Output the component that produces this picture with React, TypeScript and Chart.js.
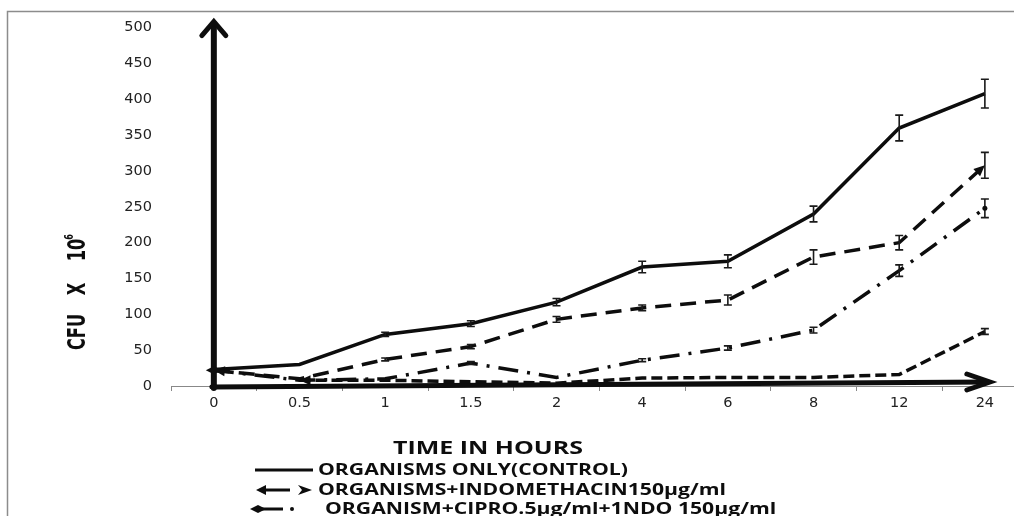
import React, { useEffect, useRef } from "react";
import { Chart, registerables } from "chart.js";

Chart.register(...registerables);

const TIME_LABELS = ["0", "0.5", "1", "1.5", "2", "4", "6", "8", "12", "24"];
const CONTROL = [23, 30, 72, 87, 117, 166, 174, 240, 360, 408];
const CONTROL_ERR = [0, 0, 3, 4, 5, 8, 9, 11, 18, 20];
const INDO = [22, 10, 37, 55, 93, 109, 120, 180, 200, 308];
const INDO_ERR = [0, 0, 2, 3, 4, 4, 7, 10, 10, 18];
const CIPRO_INDO = [22, 8, 10, 32, 12, 36, 53, 78, 161, 248];
const CIPRO_INDO_ERR = [0, 0, 0, 2, 0, 2, 3, 4, 8, 13];
const CIPRO = [null, 8, 8, 6, 4, 11, 12, 12, 16, 76];
const CIPRO_ERR = [0, 0, 0, 0, 0, 0, 0, 0, 0, 4];
const SERIES_NAMES = [
  "ORGANISMS ONLY(CONTROL)",
  "ORGANISMS+INDOMETHACIN150µg/ml",
  "ORGANISM+CIPRO.5µg/ml+1NDO 150µg/ml",
  "ORGANISM+CIPRO.5µg/ml",
];
const X_TITLE = "TIME IN HOURS";
const Y_TITLE = ["CFU", "X", "10", "6"];

const VALUES = [CONTROL, INDO, CIPRO_INDO, CIPRO];
const ERRORS = [CONTROL_ERR, INDO_ERR, CIPRO_INDO_ERR, CIPRO_ERR];
const DASHES = [[], [16, 9], [20, 9, 3, 9], [11, 5]];

const INK = "#0d0d0d";

function arrowHead(ctx: CanvasRenderingContext2D, tip: any, from: any, len: number, half: number) {
  const dx = tip.x - from.x;
  const dy = tip.y - from.y;
  const d = Math.hypot(dx, dy) || 1;
  const ux = dx / d;
  const uy = dy / d;
  const bx = tip.x - ux * len;
  const by = tip.y - uy * len;
  ctx.beginPath();
  ctx.moveTo(tip.x, tip.y);
  ctx.lineTo(bx - uy * half, by + ux * half);
  ctx.lineTo(bx + uy * half, by - ux * half);
  ctx.closePath();
  ctx.fill();
}

function stretchText(
  ctx: CanvasRenderingContext2D,
  text: string,
  x: number,
  y: number,
  font: string,
  sx: number,
  align: "left" | "center"
) {
  ctx.save();
  ctx.font = font;
  ctx.textBaseline = "middle";
  ctx.textAlign = "left";
  const w = ctx.measureText(text).width * sx;
  const left = align === "center" ? x - w / 2 : x;
  ctx.translate(left, y);
  ctx.scale(sx, 1);
  ctx.fillText(text, 0, 0);
  ctx.restore();
}

const axisArrows = {
  id: "axisArrows",
  beforeDatasetsDraw(chart: any) {
    const ctx = chart.ctx as CanvasRenderingContext2D;
    const xs = chart.scales.x;
    const ys = chart.scales.y;
    const x0 = xs.getPixelForValue(0);
    const y0 = ys.getPixelForValue(0);
    const top = chart.chartArea.top - 7;
    const xEnd = xs.getPixelForValue(TIME_LABELS.length - 1) + 5;
    const yEnd = y0 - 4;
    ctx.save();
    ctx.strokeStyle = INK;
    ctx.setLineDash([]);
    ctx.lineJoin = "miter";
    ctx.lineCap = "round";
    // vertical
    ctx.lineWidth = 6;
    ctx.beginPath();
    ctx.moveTo(x0, y0 + 2);
    ctx.lineTo(x0, top + 3);
    ctx.stroke();
    ctx.lineWidth = 5;
    ctx.beginPath();
    ctx.moveTo(x0 - 12, top + 15);
    ctx.lineTo(x0, top + 1);
    ctx.lineTo(x0 + 12, top + 15);
    ctx.stroke();
    // horizontal
    ctx.lineWidth = 5;
    ctx.beginPath();
    ctx.moveTo(x0 - 2, y0 + 1);
    ctx.lineTo(xEnd - 2, yEnd);
    ctx.stroke();
    ctx.beginPath();
    ctx.moveTo(xEnd - 23, yEnd - 8);
    ctx.lineTo(xEnd, yEnd);
    ctx.lineTo(xEnd - 23, yEnd + 8);
    ctx.stroke();
    ctx.restore();
  },
};

const errorBars = {
  id: "errorBars",
  afterDatasetsDraw(chart: any) {
    const ctx = chart.ctx as CanvasRenderingContext2D;
    const xs = chart.scales.x;
    const ys = chart.scales.y;
    ctx.save();
    ctx.strokeStyle = "#1a1a1a";
    ctx.lineWidth = 1.6;
    ctx.setLineDash([]);
    ERRORS.forEach((errs, si) => {
      errs.forEach((e, i) => {
        const v = VALUES[si][i];
        if (!e || v == null) return;
        const x = xs.getPixelForValue(i);
        const yt = ys.getPixelForValue(v + e);
        const yb = ys.getPixelForValue(v - e);
        ctx.beginPath();
        ctx.moveTo(x, yt);
        ctx.lineTo(x, yb);
        ctx.moveTo(x - 4, yt);
        ctx.lineTo(x + 4, yt);
        ctx.moveTo(x - 4, yb);
        ctx.lineTo(x + 4, yb);
        ctx.stroke();
      });
    });
    // line end markers
    ctx.fillStyle = INK;
    const m1 = chart.getDatasetMeta(1).data;
    arrowHead(ctx, m1[0], m1[1], 11, 5);
    arrowHead(ctx, m1[m1.length - 1], m1[m1.length - 2], 11, 5);
    const m2 = chart.getDatasetMeta(2).data;
    const p = m2[0];
    ctx.beginPath();
    ctx.moveTo(p.x - 8, p.y);
    ctx.lineTo(p.x, p.y - 4);
    ctx.lineTo(p.x + 8, p.y);
    ctx.lineTo(p.x, p.y + 4);
    ctx.closePath();
    ctx.fill();
    const q = m2[m2.length - 1];
    ctx.beginPath();
    ctx.arc(q.x, q.y, 2.5, 0, Math.PI * 2);
    ctx.fill();
    const m3 = chart.getDatasetMeta(3).data;
    arrowHead(ctx, m3[1], m3[2], 11, 5);
    ctx.restore();
  },
};

const texts = {
  id: "texts",
  afterDraw(chart: any) {
    const ctx = chart.ctx as CanvasRenderingContext2D;
    const W = chart.width;
    const H = chart.height;
    ctx.save();
    // frame
    ctx.strokeStyle = "#8c8c8c";
    ctx.lineWidth = 1.5;
    ctx.setLineDash([]);
    ctx.beginPath();
    ctx.moveTo(7.5, H + 2);
    ctx.lineTo(7.5, 11.5);
    ctx.lineTo(W + 2, 11.5);
    ctx.stroke();

    ctx.fillStyle = INK;
    // y title
    const yFont = 'bold 18px "Liberation Sans Narrow", "DejaVu Sans Condensed", sans-serif';
    const supFont = 'bold 9px "Liberation Sans Narrow", "DejaVu Sans Condensed", sans-serif';
    ctx.save();
    ctx.translate(76.5, 289);
    ctx.scale(1.35, 1);
    ctx.rotate(-Math.PI / 2);
    ctx.textAlign = "center";
    ctx.textBaseline = "alphabetic";
    ctx.font = yFont;
    ctx.fillText(Y_TITLE[0], -43, 6.3);
    ctx.fillText(Y_TITLE[1], 0, 6.3);
    ctx.fillText(Y_TITLE[2], 39, 6.3);
    ctx.font = supFont;
    ctx.fillText(Y_TITLE[3], 52, -2.5);
    ctx.restore();

    // x title
    const tFont = 'bold 17.5px "Open Sans", sans-serif';
    ctx.font = tFont;
    const tsx = 190 / ctx.measureText(X_TITLE).width;
    stretchText(ctx, X_TITLE, 488, 449, tFont, tsx, "center");

    // legend
    const lFont = 'bold 16px "Open Sans", sans-serif';
    ctx.font = lFont;
    const lsx = 310 / ctx.measureText(SERIES_NAMES[0]).width;
    const rows = [470, 490, 509, 529];
    const textX = [318, 318, 325, 325];
    SERIES_NAMES.forEach((name, i) => {
      stretchText(ctx, name, textX[i], rows[i], lFont, lsx, "left");
    });
    // legend samples
    ctx.strokeStyle = INK;
    ctx.lineWidth = 3;
    ctx.lineCap = "butt";
    ctx.beginPath();
    ctx.moveTo(255, rows[0]);
    ctx.lineTo(313, rows[0]);
    ctx.stroke();
    // row 2
    ctx.beginPath();
    ctx.moveTo(264, rows[1]);
    ctx.lineTo(290, rows[1]);
    ctx.stroke();
    arrowHead(ctx, { x: 256, y: rows[1] }, { x: 270, y: rows[1] }, 10, 5);
    ctx.beginPath();
    ctx.moveTo(312, rows[1]);
    ctx.lineTo(298, rows[1] - 5);
    ctx.lineTo(302, rows[1]);
    ctx.lineTo(298, rows[1] + 5);
    ctx.closePath();
    ctx.fill();
    // row 3
    ctx.beginPath();
    ctx.moveTo(250, rows[2]);
    ctx.lineTo(258, rows[2] - 4);
    ctx.lineTo(266, rows[2]);
    ctx.lineTo(258, rows[2] + 4);
    ctx.closePath();
    ctx.fill();
    ctx.beginPath();
    ctx.moveTo(262, rows[2]);
    ctx.lineTo(283, rows[2]);
    ctx.stroke();
    ctx.beginPath();
    ctx.arc(292, rows[2], 2, 0, Math.PI * 2);
    ctx.fill();
    ctx.restore();
  },
};

export default function App() {
  const ref = useRef<HTMLCanvasElement>(null);
  useEffect(() => {
    const canvas = ref.current;
    if (!canvas) return;
    const tickFont = { family: '"DejaVu Sans", sans-serif', size: 14.5 };
    const chart = new Chart(canvas, {
      type: "line",
      data: {
        datasets: VALUES.map((vals, si) => ({
          label: SERIES_NAMES[si],
          data: vals.map((y, i) => ({ x: i, y })),
          borderColor: INK,
          backgroundColor: INK,
          borderWidth: 3.5,
          borderDash: DASHES[si],
          pointRadius: 0,
          pointHoverRadius: 0,
          tension: 0,
          fill: false,
          spanGaps: false,
        })),
      },
      options: {
        responsive: false,
        animation: false,
        devicePixelRatio: 1,
        layout: { padding: { top: 20, right: 0, bottom: 0, left: 0 } },
        plugins: {
          legend: { display: false },
          tooltip: { enabled: false },
          title: { display: false },
        },
        scales: {
          x: {
            type: "linear",
            min: -0.5,
            max: 9.34,
            afterBuildTicks: (s: any) => {
              s.ticks = TIME_LABELS.map((_, i) => ({ value: i }));
            },
            afterFit: (s: any) => {
              s.height = 130;
            },
            grid: {
              display: true,
              drawOnChartArea: false,
              drawTicks: true,
              tickLength: 5,
              offset: true,
              color: "#888888",
              lineWidth: 1,
            },
            border: { display: true, color: "#888888", width: 1 },
            ticks: {
              autoSkip: false,
              maxRotation: 0,
              font: tickFont,
              color: "#222222",
              padding: 4,
              callback: (v: any) => TIME_LABELS[Math.round(Number(v))] ?? "",
            },
          },
          y: {
            type: "linear",
            min: 0,
            max: 500,
            afterFit: (s: any) => {
              s.width = 171;
            },
            grid: { display: false, drawTicks: false },
            border: { display: false },
            ticks: {
              stepSize: 50,
              font: tickFont,
              color: "#222222",
              padding: 19,
            },
          },
        },
      } as any,
      plugins: [axisArrows, errorBars, texts],
    });
    return () => chart.destroy();
  }, []);
  return (
    <div style={{ position: "fixed", left: 0, top: 0, width: 1014, height: 516, background: "#fff", overflow: "hidden" }}>
      <canvas ref={ref} width={1014} height={516} style={{ width: 1014, height: 516, display: "block" }} />
    </div>
  );
}
